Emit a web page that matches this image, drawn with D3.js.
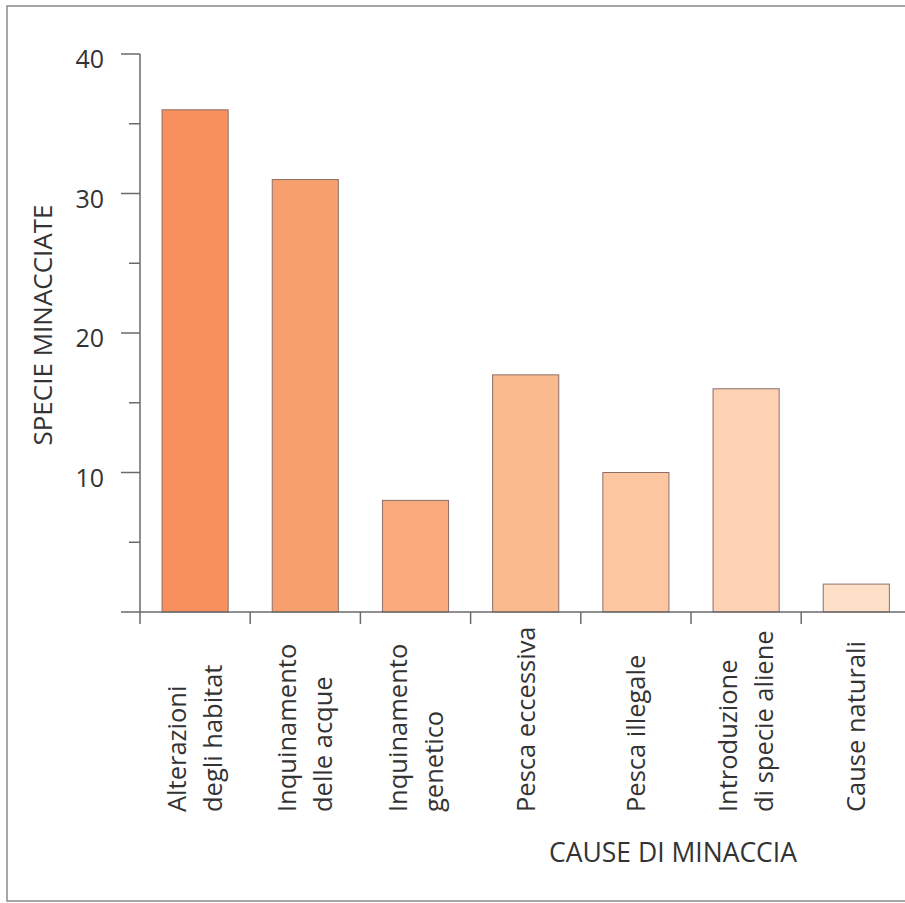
<!DOCTYPE html>
<head>
<meta charset="utf-8">
<title>Specie minacciate</title>
<style>
   body {
		   margin: 0;
		   background: #ffffff;
   }
   text {
		   font-family: "Open Sans", "Noto Sans", sans-serif;
		   fill: #333333;
   }
</style>
</head>
<body>
<div id="chartDiv"></div>

<script src="https://d3js.org/d3.v7.min.js"></script>
<script>

   // data
   var causes = [
	   ["Alterazioni", "degli habitat"],
	   ["Inquinamento", "delle acque"],
	   ["Inquinamento", "genetico"],
	   ["Pesca eccessiva"],
	   ["Pesca illegale"],
	   ["Introduzione", "di specie aliene"],
	   ["Cause naturali"]
   ];
   var species = [36, 31, 8, 17, 10, 16, 2];
   var barColors = ["#f7905c", "#f89f6e", "#f9aa7c", "#fbba8e", "#fcc6a0", "#fdd3b4", "#fee0c8"];
   var yTicks = [10, 20, 30, 40];
   var yMinorTicks = [5, 15, 25, 35];

   var width = 905;
   var height = 903;
   var axisColor = "#6a6a6a";

   var svg = d3.select("#chartDiv")
	 .append("svg")
	   .attr("width", width)
	   .attr("height", height);

   // frame
   svg.append("rect")
	   .attr("x", 7)
	   .attr("y", 6)
	   .attr("width", 1000)
	   .attr("height", 895)
	   .attr("fill", "none")
	   .attr("stroke", "#8a8a8a")
	   .attr("stroke-width", 1.5);

   var x = d3.scaleBand()
	   .domain(d3.range(causes.length))
	   .range([140, 140 + 110.2 * causes.length])
	   .paddingInner(0.4)
	   .paddingOuter(0.2);

   var y = d3.scaleLinear()
	   .domain([0, 40])
	   .range([612, 54]);

   // bars
   svg.selectAll("rect.bar")
	   .data(species)
	   .enter().append("rect")
	   .attr("class", "bar")
	   .attr("x", function(d, i) { return x(i); })
	   .attr("y", function(d) { return y(d); })
	   .attr("width", x.bandwidth())
	   .attr("height", function(d) { return y(0) - y(d); })
	   .attr("fill", function(d, i) { return barColors[i]; })
	   .attr("stroke", "#8c7068")
	   .attr("stroke-width", 1);

   // y axis
   var yAxis = svg.append("g");
   yAxis.append("line")
	   .attr("x1", 140).attr("x2", 140)
	   .attr("y1", y(40)).attr("y2", y(0))
	   .attr("stroke", axisColor).attr("stroke-width", 1.5);
   yAxis.selectAll("line.major")
	   .data(yTicks)
	   .enter().append("line")
	   .attr("class", "major")
	   .attr("x1", 121).attr("x2", 140)
	   .attr("y1", function(d) { return y(d); })
	   .attr("y2", function(d) { return y(d); })
	   .attr("stroke", axisColor).attr("stroke-width", 1.5);
   yAxis.selectAll("line.minor")
	   .data(yMinorTicks)
	   .enter().append("line")
	   .attr("class", "minor")
	   .attr("x1", 129).attr("x2", 140)
	   .attr("y1", function(d) { return y(d); })
	   .attr("y2", function(d) { return y(d); })
	   .attr("stroke", axisColor).attr("stroke-width", 1.5);
   yAxis.selectAll("text")
	   .data(yTicks)
	   .enter().append("text")
	   .attr("x", 104)
	   .attr("y", function(d) { return y(d) + 14; })
	   .attr("text-anchor", "end")
	   .style("font-size", "25px")
	   .text(function(d) { return d; });

   svg.append("text")
	   .attr("transform", "translate(52,325) rotate(-90)")
	   .attr("text-anchor", "middle")
	   .style("font-size", "26px")
	   .text("SPECIE MINACCIATE");

   // x axis
   var xAxis = svg.append("g");
   var tickX = function(i) { return x(i) - x.step() * x.paddingInner() / 2; };
   xAxis.append("line")
	   .attr("x1", 121).attr("x2", width)
	   .attr("y1", y(0)).attr("y2", y(0))
	   .attr("stroke", axisColor).attr("stroke-width", 1.5);
   xAxis.selectAll("line.tick")
	   .data(causes)
	   .enter().append("line")
	   .attr("class", "tick")
	   .attr("x1", function(d, i) { return tickX(i); })
	   .attr("x2", function(d, i) { return tickX(i); })
	   .attr("y1", y(0)).attr("y2", y(0) + 12)
	   .attr("stroke", axisColor).attr("stroke-width", 1.5);

   var labels = xAxis.selectAll("text")
	   .data(causes)
	   .enter().append("text")
	   .attr("transform", function(d, i) {
		   var cx = x(i) + x.bandwidth() / 2;
		   return "translate(" + cx + ",812) rotate(-90)";
	   })
	   .attr("text-anchor", "start")
	   .style("font-size", "25.5px");

   labels.selectAll("tspan")
	   .data(function(d) { return d.map(function(t, j) { return {t: t, j: j, n: d.length}; }); })
	   .enter().append("tspan")
	   .attr("x", 0)
	   .attr("y", function(d) { return d.n == 1 ? 9 : (d.j == 0 ? -9 : 27); })
	   .text(function(d) { return d.t; });

   svg.append("text")
	   .attr("x", 673)
	   .attr("y", 862)
	   .attr("text-anchor", "middle")
	   .style("font-size", "26.5px")
	   .text("CAUSE DI MINACCIA");

</script>
</body>
